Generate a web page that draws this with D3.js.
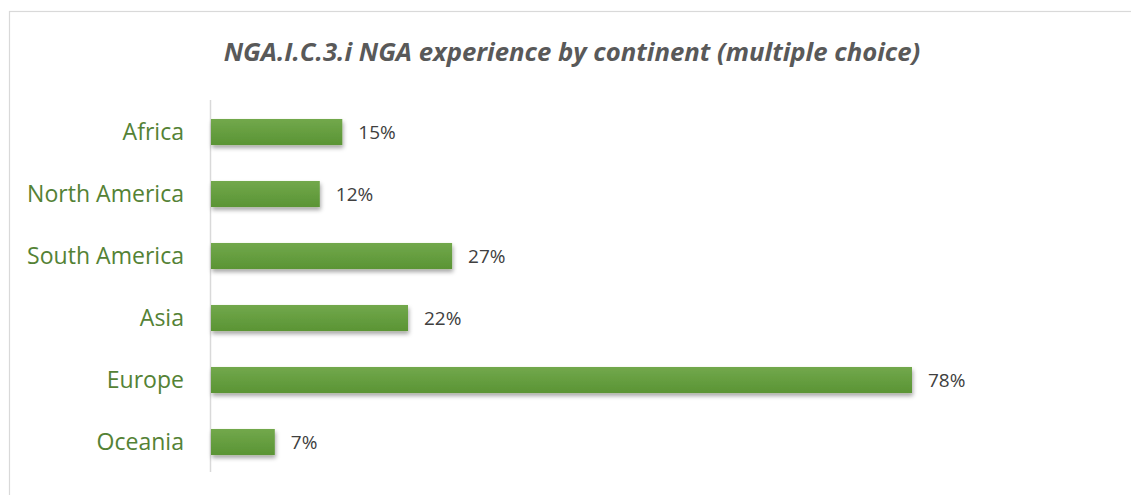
<!DOCTYPE html>
<html><head><meta charset="utf-8">
<script src="https://cdn.jsdelivr.net/npm/d3@7/dist/d3.min.js"></script>
<style>body{margin:0;background:#fff}svg{display:block}</style>
</head><body>
<svg id="c" width="1131" height="495"></svg>
<script>
const categories = ["Africa","North America","South America","Asia","Europe","Oceania"];
const values = [14.7,12.2,26.9,22.0,78.0,7.2];
const valueLabels = ["15%","12%","27%","22%","78%","7%"];
const title = "NGA.I.C.3.i NGA experience by continent (multiple choice)";

const svg = d3.select("#c");
const W = 1131, H = 495;
const defs = svg.append("defs");
const g = defs.append("linearGradient").attr("id","bg").attr("x1",0).attr("y1",0).attr("x2",0).attr("y2",1);
g.append("stop").attr("offset","0%").attr("stop-color","#72a84c");
g.append("stop").attr("offset","100%").attr("stop-color","#5a9434");
const f = defs.append("filter").attr("id","sh").attr("x","-10%").attr("y","-30%").attr("width","130%").attr("height","180%");
f.append("feDropShadow").attr("dx",1).attr("dy",3).attr("stdDeviation",2.2).attr("flood-color","#000").attr("flood-opacity",0.35);

svg.append("rect").attr("x",9.5).attr("y",11.5).attr("width",W+20).attr("height",H+20)
  .attr("fill","none").attr("stroke","#d9d9d9").attr("stroke-width",1.2);

const x0 = 210;
const x = d3.scaleLinear().domain([0,100]).range([x0, x0+900]);
const y = d3.scaleBand().domain(categories).range([101,473]).paddingInner(0.58).paddingOuter(0.29);

svg.append("line").attr("x1",x0+0.5).attr("x2",x0+0.5).attr("y1",100).attr("y2",472)
  .attr("stroke","#d9d9d9").attr("stroke-width",1.5);

svg.append("g").selectAll("rect").data(values).join("rect")
  .attr("x",x(0)+1).attr("y",(d,i)=>y(categories[i]))
  .attr("width",d=>x(d)-x(0)-1).attr("height",y.bandwidth())
  .attr("fill","url(#bg)").attr("filter","url(#sh)");

const vl = svg.append("g").selectAll("text").data(values).join("text")
  .attr("x",d=>x(d)+16).attr("y",(d,i)=>y(categories[i])+y.bandwidth()/2)
  .attr("dy","0.36em").attr("font-family","'Open Sans', sans-serif").attr("font-size",16)
  .attr("fill","#404040").text((d,i)=>valueLabels[i]);
const w78 = vl.filter((d,i)=>i===4).node().getComputedTextLength();
vl.attr("font-size", Math.min(19, 16*40/w78));

const labs = svg.append("g").selectAll("text").data(categories).join("text")
  .attr("x",184).attr("y",d=>y(d)+y.bandwidth()/2)
  .attr("dy","0.35em").attr("text-anchor","end")
  .attr("font-family","'Open Sans', sans-serif").attr("font-size",20)
  .attr("fill","#548235").text(d=>d);
const sa = labs.filter(d=>d==="South America").node().getComputedTextLength();
labs.attr("font-size", 20*157/sa);

const t = svg.append("text").attr("x",572).attr("y",52).attr("dy","0.35em").attr("text-anchor","middle")
  .attr("font-family","'Open Sans', sans-serif").attr("font-weight","bold").attr("font-style","italic")
  .attr("font-size",22).attr("fill","#595959").text(title);
const tw = t.node().getComputedTextLength();
t.attr("font-size", 22*697/tw);
</script>
</body></html>
